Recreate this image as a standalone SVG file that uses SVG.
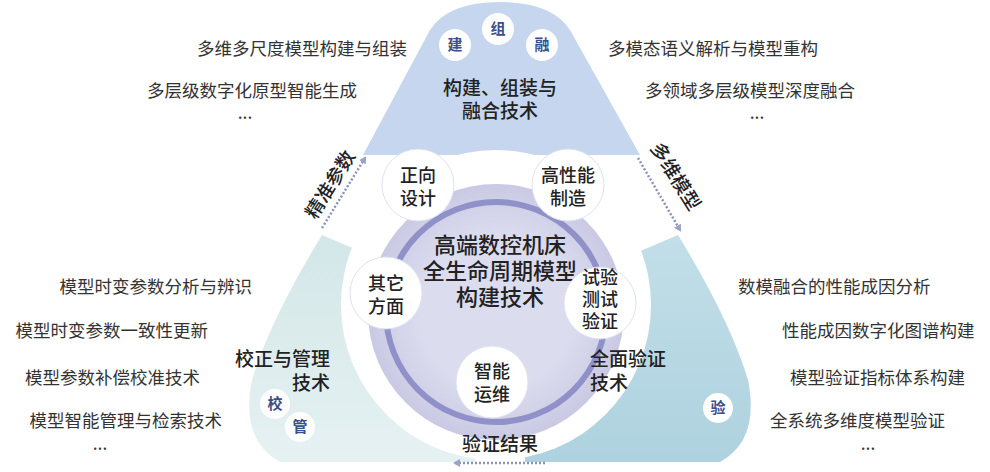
<svg xmlns="http://www.w3.org/2000/svg" width="990" height="472" viewBox="0 0 990 472">
<defs>
<style>
text{font-family:"Noto Sans CJK SC","Noto Sans",sans-serif;fill:#222}
.s{font-size:17.5px;fill:#333}
.b{font-size:19px;font-weight:500}
.c{font-size:18px;text-anchor:middle;font-weight:500}
.l{font-size:15px;font-weight:bold;fill:#3a4e8a;text-anchor:middle}
.sc{fill:#fff;stroke:#dde3ee;stroke-width:1}
.ar{stroke:#8a93b8;stroke-width:2.5;stroke-dasharray:2 2;fill:none;marker-end:url(#ah)}
</style>
<marker id="ah" markerWidth="8" markerHeight="8" refX="5" refY="4" orient="auto" markerUnits="userSpaceOnUse"><path d="M0,0 L7,4 L0,8 Z" fill="#9aa3c4"/></marker>
<linearGradient id="gl" x1="0" y1="0" x2="0" y2="1"><stop offset="0" stop-color="#d3e7e8"/><stop offset="1" stop-color="#e6f1f2"/></linearGradient>
<linearGradient id="gr" x1="0" y1="0" x2="0" y2="1"><stop offset="0" stop-color="#c2dfe8"/><stop offset="1" stop-color="#aed2df"/></linearGradient>
<radialGradient id="gc"><stop offset="0.6" stop-color="#dcdcef"/><stop offset="1" stop-color="#c9c9e4"/></radialGradient>
</defs>
<g id="blob-top"><path d="M363,155 L430,30 Q448,2 500,2 Q552,2 570,30 L640,155 Z" fill="#c5d6ee"/></g>
<g id="blob-left"><path d="M322,235 Q270,320 252,380 Q240,440 280,462 L475,462 L475,300 Z" fill="url(#gl)"/></g>
<g id="blob-right"><path d="M678,235 Q730,320 748,380 Q760,440 720,462 L525,462 L525,300 Z" fill="url(#gr)"/></g>
<circle cx="496" cy="305" r="155" fill="#fff"/>
<g id="center"><circle cx="496" cy="312" r="128" fill="url(#gc)"/>
<circle cx="496" cy="312" r="110" fill="none" stroke="#8f91c8" stroke-width="6"/>
<text class="c" x="500" y="253" style="font-size:22px">高端数控机床</text>
<text class="c" x="500" y="279" style="font-size:22px">全生命周期模型</text>
<text class="c" x="500" y="305" style="font-size:22px">构建技术</text></g>
<g id="n1"><circle class="sc" cx="418" cy="185" r="36"/><text class="c" x="418" y="182">正向</text><text class="c" x="418" y="205">设计</text></g>
<g id="n2"><circle class="sc" cx="568" cy="185" r="36"/><text class="c" x="568" y="182">高性能</text><text class="c" x="568" y="205">制造</text></g>
<g id="n3"><circle class="sc" cx="386" cy="293" r="36"/><text class="c" x="386" y="290">其它</text><text class="c" x="386" y="313">方面</text></g>
<g id="n4"><circle class="sc" cx="600" cy="303" r="36"/><text class="c" x="600" y="284">试验</text><text class="c" x="600" y="306">测试</text><text class="c" x="600" y="328">验证</text></g>
<g id="n5"><circle class="sc" cx="492" cy="382" r="36"/><text class="c" x="492" y="378">智能</text><text class="c" x="492" y="401">运维</text></g>
<g id="letters">
<circle cx="455" cy="45" r="16" fill="#fff"/><text class="l" x="455" y="50">建</text>
<circle cx="498" cy="29" r="16" fill="#fff"/><text class="l" x="498" y="34">组</text>
<circle cx="542" cy="45" r="16" fill="#fff"/><text class="l" x="542" y="50">融</text>
<circle cx="275" cy="404" r="15" fill="#fff"/><text class="l" x="275" y="409">校</text>
<circle cx="300" cy="427" r="15" fill="#fff"/><text class="l" x="300" y="432">管</text>
<circle cx="718" cy="408" r="15" fill="#fff"/><text class="l" x="718" y="413">验</text>
</g>
<g id="labels">
<text class="b" x="500" y="95" text-anchor="middle">构建、组装与</text>
<text class="b" x="500" y="118" text-anchor="middle">融合技术</text>
<text class="b" x="330" y="366" text-anchor="end">校正与管理</text>
<text class="b" x="330" y="390" text-anchor="end">技术</text>
<text class="b" x="590" y="366">全面验证</text>
<text class="b" x="590" y="390">技术</text>
</g>
<g id="side">
<text class="s" x="407" y="55" text-anchor="end">多维多尺度模型构建与组装</text>
<text class="s" x="357" y="97" text-anchor="end">多层级数字化原型智能生成</text>
<text class="s" x="245" y="119" text-anchor="middle">...</text>
<text class="s" x="608" y="55">多模态语义解析与模型重构</text>
<text class="s" x="645" y="97">多领域多层级模型深度融合</text>
<text class="s" x="757" y="119" text-anchor="middle">...</text>
<text class="s" x="252" y="293" text-anchor="end">模型时变参数分析与辨识</text>
<text class="s" x="208" y="337" text-anchor="end">模型时变参数一致性更新</text>
<text class="s" x="200" y="384" text-anchor="end">模型参数补偿校准技术</text>
<text class="s" x="222" y="427" text-anchor="end">模型智能管理与检索技术</text>
<text class="s" x="100" y="450" text-anchor="middle">...</text>
<text class="s" x="738" y="293">数模融合的性能成因分析</text>
<text class="s" x="782" y="337">性能成因数字化图谱构建</text>
<text class="s" x="790" y="384">模型验证指标体系构建</text>
<text class="s" x="770" y="427">全系统多维度模型验证</text>
<text class="s" x="868" y="450" text-anchor="middle">...</text>
</g>
<g id="connectors">
<path class="ar" d="M322,228 L365,158"/>
<path class="ar" d="M638,158 L680,230"/>
<path class="ar" d="M545,463 L455,463"/>
<text class="b" x="0" y="0" text-anchor="middle" transform="translate(336,188) rotate(-58)">精准参数</text>
<text class="b" x="0" y="0" text-anchor="middle" transform="translate(670,180) rotate(58)">多维模型</text>
<text class="b" x="500" y="451" text-anchor="middle">验证结果</text>
</g>
</svg>
